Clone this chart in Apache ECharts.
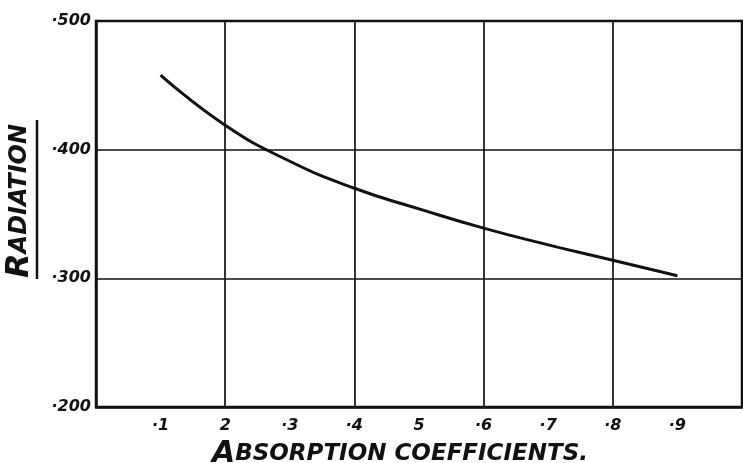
<!DOCTYPE html>
<html>
<head>
<meta charset="utf-8">
<script src="https://cdn.jsdelivr.net/npm/echarts@6/dist/echarts.min.js"></script>
<style>
  html, body { margin: 0; padding: 0; background: #fff; }
  #chart { width: 743px; height: 463px; }
</style>
</head>
<body>
<div id="chart"></div>
<script>
// values
const coefficients = [0.1, 0.2, 0.3, 0.4, 0.5, 0.6, 0.7, 0.8, 0.9];
const radiation = [458, 419, 391, 370, 354, 339, 326, 314, 302];
const xTickLabels = ["·1", "2", "·3", "·4", "5", "·6", "·7", "·8", "·9"];
const yTickLabels = { 200: "·200", 300: "·300", 400: "·400", 500: "·500" };

const ink = "#111";
const font = "DejaVu Sans";

const chart = echarts.init(document.getElementById("chart"));

chart.setOption({
  backgroundColor: "#fff",
  animation: false,
  grid: {
    left: 96,
    right: 1,
    top: 21,
    bottom: 56,
    containLabel: false,
    outerBoundsMode: "none",
    show: true,
    borderColor: ink,
    borderWidth: 2.5
  },
  xAxis: [
    {
      type: "value",
      min: 0,
      max: 1,
      interval: 0.1,
      name: "{big|A}{small|BSORPTION COEFFICIENTS.}",
      nameLocation: "middle",
      nameGap: 21,
      nameTextStyle: {
        padding: [0, 38, 0, 0],
        rich: {
          big: { fontSize: 30, fontStyle: "italic", fontFamily: font, color: ink, fontWeight: "bold" },
          small: { fontSize: 23, fontStyle: "italic", fontFamily: font, color: ink, fontWeight: "bold" }
        }
      },
      axisLine: { show: true, lineStyle: { color: ink, width: 2.5 } },
      axisTick: { show: false },
      splitLine: { show: false },
      axisLabel: {
        margin: 11,
        fontSize: 16,
        fontStyle: "italic",
        fontWeight: "bold",
        fontFamily: font,
        color: ink,
        formatter: function (v) {
          const i = coefficients.findIndex(c => Math.abs(c - v) < 1e-6);
          return i >= 0 ? xTickLabels[i] : "";
        }
      }
    },
    {
      type: "value",
      min: 0,
      max: 1,
      interval: 0.2,
      position: "bottom",
      axisLine: { show: false },
      axisTick: { show: false },
      axisLabel: { show: false },
      splitLine: { show: true, lineStyle: { color: ink, width: 1.7 } }
    }
  ],
  yAxis: {
    type: "value",
    min: 200,
    max: 500,
    interval: 100,
    name: "{big|R}{small|ADIATION}",
    nameLocation: "middle",
    nameGap: 60,
    nameRotate: 90,
    nameTextStyle: {
      padding: [0, 0, 0, 26],
      rich: {
        big: { fontSize: 32, fontStyle: "italic", fontFamily: font, color: ink, fontWeight: "bold" },
        small: { fontSize: 24, fontStyle: "italic", fontFamily: font, color: ink, fontWeight: "bold" }
      }
    },
    axisLine: { show: true, lineStyle: { color: ink, width: 2.5 } },
    axisTick: { show: false },
    splitLine: { show: true, lineStyle: { color: ink, width: 1.7 } },
    axisLabel: {
      margin: 5,
      fontSize: 16,
      fontStyle: "italic",
      fontWeight: "bold",
      fontFamily: font,
      color: ink,
      formatter: v => yTickLabels[v] || ""
    }
  },
  graphic: [
    {
      type: "line",
      shape: { x1: 37, y1: 120, x2: 37, y2: 279 },
      style: { stroke: ink, lineWidth: 2.5 }
    }
  ],
  series: [
    {
      type: "line",
      xAxisIndex: 0,
      data: coefficients.map((c, i) => [c, radiation[i]]),
      smooth: true,
      showSymbol: false,
      lineStyle: { color: ink, width: 3 }
    }
  ]
});
</script>
</body>
</html>
